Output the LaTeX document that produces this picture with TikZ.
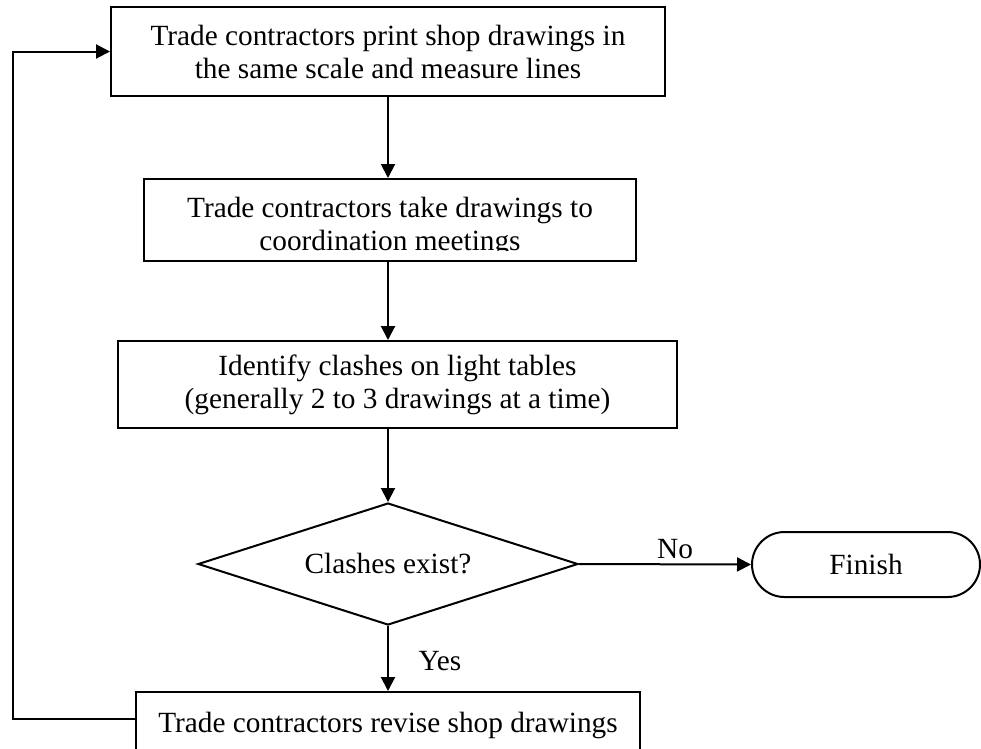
\documentclass[tikz,border=0pt]{standalone}
\usepackage{fontspec}
\setmainfont{Liberation Serif}
\usetikzlibrary{arrows.meta,shapes.geometric}
\begin{document}
\begin{tikzpicture}[x=1pt,y=-1pt,
  every node/.style={font=\fontsize{29.3}{33}\selectfont},
  procbox/.style={draw, line width=2pt, align=center},
  arr/.style={line width=2pt, -{Triangle[length=14pt,width=14pt]}}]
\useasboundingbox (0,0) rectangle (981,748);
\clip (0,0) rectangle (981,748);
\node[procbox, minimum width=554pt, minimum height=89pt] (print) at (388,51.5)
  {Trade contractors print shop drawings in\\the same scale and measure lines};
\node[procbox, minimum width=492pt, minimum height=82pt] (take) at (390,220) {};
\begin{scope}
  \clip (144,179) rectangle (636,250.5);
  \node[align=center] (taketext) at (390,227) {Trade contractors take drawings to\\coordination meetings};
\end{scope}
\node[procbox, minimum width=559pt, minimum height=87pt] (identify) at (397.5,384.5)
  {Identify clashes on light tables\\(generally 2 to 3 drawings at a time)};
\node[draw, diamond, shape aspect=3.1, minimum width=380pt, minimum height=122pt,
  inner sep=0pt, line width=2pt] (clash) at (388,564) {Clashes exist?};
\node[draw, rounded corners=32.5pt, minimum width=228pt, minimum height=65pt,
  line width=2pt] (finish) at (866,564.5) {Finish};
\node[procbox, minimum width=504pt, minimum height=67pt] (revise) at (388,725.5)
  {Trade contractors revise shop drawings};
\node (no) at (675,549) {No};
\node (yes) at (440,661) {Yes};
\coordinate (lb) at (13,719);
\draw[arr] (print.south) -- (print.south |- take.north);
\draw[arr] (take.south -| print.south) -- (print.south |- identify.north);
\draw[arr] (identify.south -| clash.north) -- (clash.north);
\draw[arr] (clash.south) -- (revise.north);
\draw[arr] (clash.east) -- (finish.west);
\draw[arr] ([yshift=6.5pt]revise.west) -- (lb) -- (lb |- print.west) -- (print.west);
\end{tikzpicture}
\end{document}
